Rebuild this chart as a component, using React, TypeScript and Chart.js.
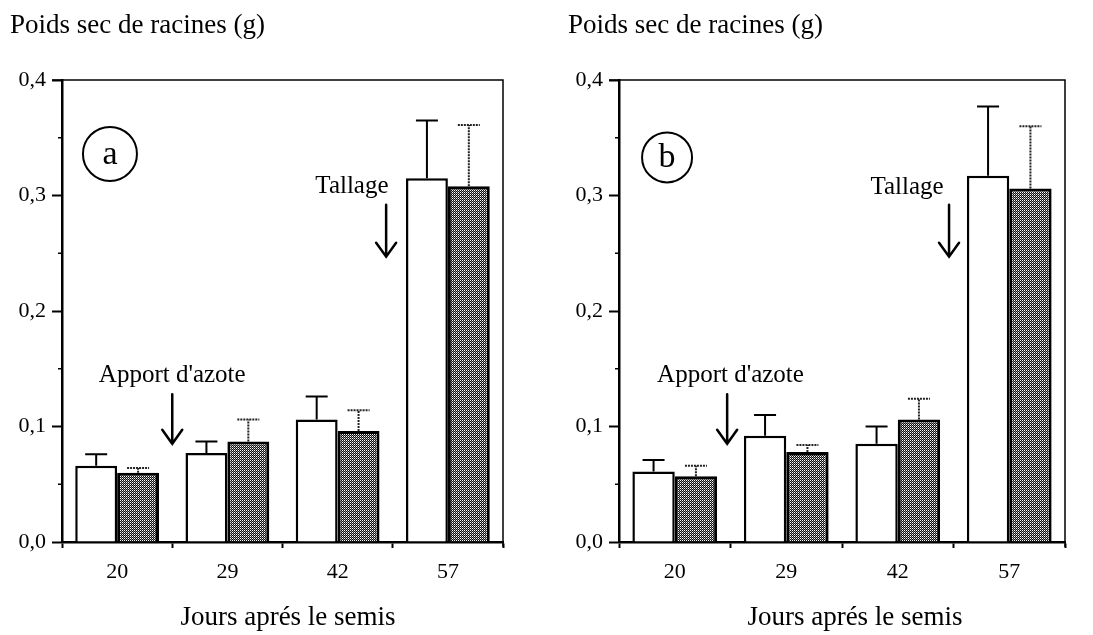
import { useEffect, useRef } from 'react';
import { Chart, registerables } from 'chart.js';
Chart.register(...registerables);

// ---- data ----
const categories = ['20', '29', '42', '57'];
const yTickValues = [0, 0.1, 0.2, 0.3, 0.4];
const minorTickValues = [0.05, 0.15, 0.25, 0.35];

const whiteA = [0.066, 0.077, 0.106, 0.315];
const whiteErrA = [0.010, 0.010, 0.020, 0.050];
const hatchA = [0.060, 0.087, 0.096, 0.308];
const hatchErrA = [0.004, 0.019, 0.018, 0.053];

const whiteB = [0.061, 0.092, 0.085, 0.317];
const whiteErrB = [0.010, 0.018, 0.015, 0.060];
const hatchB = [0.057, 0.078, 0.106, 0.306];
const hatchErrB = [0.009, 0.006, 0.018, 0.054];

const yTitle = 'Poids sec de racines (g)';
const xTitle = 'Jours aprés le semis';
const noteTallage = 'Tallage';
const noteAzote = "Apport d'azote";

const FONT = '"Liberation Serif", "DejaVu Serif", serif';

type PanelCfg = {
  letter: string;
  white: number[];
  whiteErr: number[];
  hatch: number[];
  hatchErr: number[];
  left: number;
  width: number;
  area: { left: number; right: number; top: number; bottom: number };
  circle: { x: number; y: number; r: number };
  tallage: { tx: number; ty: number; ax: number; y0: number; y1: number };
  azote: { tx: number; ty: number; ax: number; y0: number; y1: number };
  yTitlePos: { x: number; y: number };
  xTitlePos: { x: number; y: number };
};

const panels: PanelCfg[] = [
  {
    letter: 'a', white: whiteA, whiteErr: whiteErrA, hatch: hatchA, hatchErr: hatchErrA,
    left: 0, width: 546,
    area: { left: 62, right: 503, top: 80, bottom: 542 },
    circle: { x: -0.065, y: 0.336, r: 27 },
    tallage: { tx: 2.13, ty: 0.308, ax: 2.44, y0: 0.292, y1: 0.247 },
    azote: { tx: 0.5, ty: 0.144, ax: 0.5, y0: 0.128, y1: 0.085 },
    yTitlePos: { x: 10, y: 33 },
    xTitlePos: { x: 288, y: 625 },
  },
  {
    letter: 'b', white: whiteB, whiteErr: whiteErrB, hatch: hatchB, hatchErr: hatchErrB,
    left: 546, width: 547,
    area: { left: 73, right: 519, top: 80, bottom: 542 },
    circle: { x: -0.069, y: 0.333, r: 25 },
    tallage: { tx: 2.083, ty: 0.307, ax: 2.46, y0: 0.292, y1: 0.247 },
    azote: { tx: 0.5, ty: 0.144, ax: 0.47, y0: 0.128, y1: 0.085 },
    yTitlePos: { x: 22, y: 33 },
    xTitlePos: { x: 309, y: 625 },
  },
];

function makeHatch(): CanvasPattern | string {
  const c = document.createElement('canvas');
  c.width = 2; c.height = 2;
  const g = c.getContext('2d');
  if (!g) return '#555';
  g.fillStyle = '#111';
  g.fillRect(0, 0, 2, 2);
  g.fillStyle = '#ffffff';
  g.fillRect(0, 0, 1, 1);
  g.fillStyle = '#8a8a8a';
  g.fillRect(1, 1, 1, 1);
  const p = g.createPattern(c, 'repeat');
  return p || '#555';
}

function drawArrow(ctx: CanvasRenderingContext2D, x: number, y0: number, y1: number) {
  ctx.save();
  ctx.strokeStyle = '#000';
  ctx.lineWidth = 2.5;
  ctx.lineCap = 'round';
  ctx.beginPath();
  ctx.moveTo(x, y0);
  ctx.lineTo(x, y1);
  ctx.moveTo(x - 10, y1 - 14);
  ctx.lineTo(x, y1);
  ctx.lineTo(x + 10, y1 - 14);
  ctx.stroke();
  ctx.restore();
}

function makePlugin(cfg: PanelCfg) {
  return {
    id: 'decor' + cfg.letter,
    afterDatasetsDraw(chart: any) {
      const ctx: CanvasRenderingContext2D = chart.ctx;
      const ys = chart.scales.y;
      chart.data.datasets.forEach((ds: any, i: number) => {
        const meta = chart.getDatasetMeta(i);
        meta.data.forEach((el: any, j: number) => {
          const v = ds.data[j];
          const e = ds.errors[j];
          const top = ys.getPixelForValue(v);
          const et = ys.getPixelForValue(v + e);
          ctx.save();
          ctx.strokeStyle = ds.errColor;
          ctx.lineWidth = ds.errWidth;
          if (ds.errDash) ctx.setLineDash(ds.errDash);
          ctx.beginPath();
          ctx.moveTo(el.x, top);
          ctx.lineTo(el.x, et);
          ctx.moveTo(el.x - 11, et);
          ctx.lineTo(el.x + 11, et);
          ctx.stroke();
          ctx.restore();
        });
      });
    },
    afterDraw(chart: any) {
      const ctx: CanvasRenderingContext2D = chart.ctx;
      const xs = chart.scales.x;
      const ys = chart.scales.y;
      const a = chart.chartArea;
      ctx.save();
      ctx.strokeStyle = '#000';
      ctx.lineWidth = 1.5;
      ctx.beginPath();
      ctx.moveTo(a.left - 10, a.top);
      ctx.lineTo(a.right, a.top);
      ctx.lineTo(a.right, a.bottom + 5);
      ctx.stroke();
      ctx.lineWidth = 1.5;
      ctx.beginPath();
      minorTickValues.forEach((v) => {
        const py = ys.getPixelForValue(v);
        ctx.moveTo(a.left - 4, py);
        ctx.lineTo(a.left, py);
      });
      ctx.stroke();
      ctx.fillStyle = '#000';
      ctx.font = '27px ' + FONT;
      ctx.textAlign = 'left';
      ctx.textBaseline = 'alphabetic';
      ctx.fillText(yTitle, cfg.yTitlePos.x, cfg.yTitlePos.y);
      ctx.textAlign = 'center';
      ctx.font = '27px ' + FONT;
      ctx.fillText(xTitle, cfg.xTitlePos.x, cfg.xTitlePos.y);
      const cx = xs.getPixelForValue(cfg.circle.x);
      const cy = ys.getPixelForValue(cfg.circle.y);
      ctx.lineWidth = 2;
      ctx.beginPath();
      ctx.arc(cx, cy, cfg.circle.r, 0, Math.PI * 2);
      ctx.stroke();
      ctx.font = '34px ' + FONT;
      ctx.textBaseline = 'middle';
      ctx.fillText(cfg.letter, cx, cy + 1);
      ctx.font = '25px ' + FONT;
      ctx.fillText(noteTallage, xs.getPixelForValue(cfg.tallage.tx), ys.getPixelForValue(cfg.tallage.ty));
      ctx.fillText(noteAzote, xs.getPixelForValue(cfg.azote.tx), ys.getPixelForValue(cfg.azote.ty));
      drawArrow(ctx, xs.getPixelForValue(cfg.tallage.ax), ys.getPixelForValue(cfg.tallage.y0), ys.getPixelForValue(cfg.tallage.y1));
      drawArrow(ctx, xs.getPixelForValue(cfg.azote.ax), ys.getPixelForValue(cfg.azote.y0), ys.getPixelForValue(cfg.azote.y1));
      ctx.restore();
    },
  };
}

function Panel({ cfg }: { cfg: PanelCfg }) {
  const ref = useRef<HTMLCanvasElement | null>(null);
  useEffect(() => {
    if (!ref.current) return;
    const hatch = makeHatch();
    const chart = new Chart(ref.current, {
      type: 'bar',
      data: {
        labels: categories,
        datasets: [
          {
            label: 'white',
            data: cfg.white,
            errors: cfg.whiteErr,
            errColor: '#000', errWidth: 2, errDash: null,
            backgroundColor: '#ffffff',
            borderColor: '#000',
            borderWidth: 2.5,
          } as any,
          {
            label: 'hatch',
            data: cfg.hatch,
            errors: cfg.hatchErr,
            errColor: '#222', errWidth: 2, errDash: [2, 1],
            backgroundColor: hatch,
            borderColor: '#000',
            borderWidth: 3,
          } as any,
        ],
      },
      options: {
        animation: false,
        responsive: true,
        maintainAspectRatio: false,
        events: [],
        categoryPercentage: 0.76,
        barPercentage: 1,
        layout: {
          padding: { top: cfg.area.top, right: cfg.width - cfg.area.right, bottom: 0, left: 0 },
        },
        plugins: {
          legend: { display: false },
          tooltip: { enabled: false },
          title: { display: false },
        },
        scales: {
          x: {
            type: 'category',
            offset: true,
            grid: {
              offset: true,
              drawOnChartArea: false,
              drawTicks: true,
              tickLength: 6,
              tickWidth: 2,
              tickColor: '#000',
            },
            border: { display: true, color: '#000', width: 2.5 },
            ticks: { color: '#000', font: { family: FONT, size: 22 }, padding: 11, maxRotation: 0 },
            afterFit: (s: any) => { s.height = 635 - cfg.area.bottom; },
          },
          y: {
            type: 'linear',
            min: 0,
            max: 0.4,
            afterBuildTicks: (s: any) => { s.ticks = yTickValues.map((v) => ({ value: v })); },
            grid: {
              drawOnChartArea: false,
              drawTicks: true,
              tickLength: 10,
              tickWidth: 2,
              tickColor: '#000',
            },
            border: { display: true, color: '#000', width: 2.5 },
            ticks: {
              color: '#000',
              font: { family: FONT, size: 22 },
              padding: 6,
              callback: (v: any) => Number(v).toFixed(1).replace('.', ','),
            },
            afterFit: (s: any) => { s.width = cfg.area.left; },
          },
        },
      } as any,
      plugins: [makePlugin(cfg)],
    });
    return () => chart.destroy();
  }, [cfg]);
  return (
    <div style={{ position: 'absolute', left: cfg.left, top: 0, width: cfg.width, height: 635 }}>
      <canvas ref={ref} />
    </div>
  );
}

export default function App() {
  return (
    <div style={{ position: 'fixed', left: 0, top: 0, width: 1093, height: 635, background: '#fff', overflow: 'hidden' }}>
      {panels.map((p) => (
        <Panel key={p.letter} cfg={p} />
      ))}
    </div>
  );
}
